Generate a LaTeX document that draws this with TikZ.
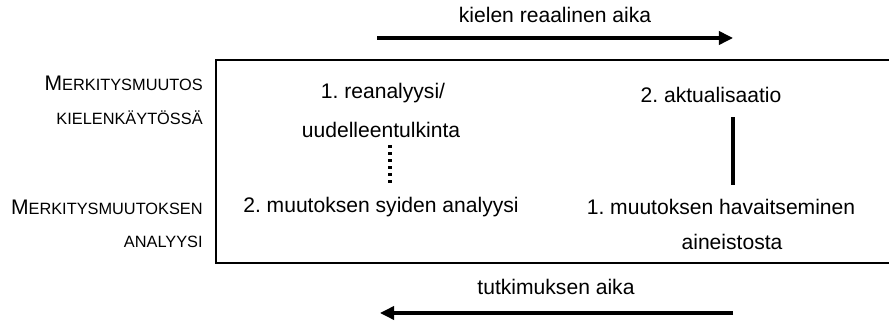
\documentclass[tikz,border=0pt]{standalone}
\usepackage{fontspec}
\setmainfont{Liberation Sans}
\usetikzlibrary{arrows.meta,calc}
\frenchspacing
\newcommand\pienikap[2]{{\fontsize{12}{14}\selectfont #1}{\fontsize{9.3}{11}\selectfont #2}}

\begin{document}
\begin{tikzpicture}[x=0.02cm,y=-0.02cm,
    txt/.style={font=\fontsize{12}{14}\selectfont,inner sep=0pt},
    lbl/.style={anchor=east,inner sep=0pt},
    aika/.style={line width=1.8pt,-{Triangle[length=8pt,width=7.5pt]}}]
  \useasboundingbox (0,0) rectangle (889,323);
  % kehys
  \draw[line width=1.4pt] (900,60) -- (216,60) -- (216,263) -- (900,263);
  % aika-akselit
  \node[txt] (RA) at (555,15) {kielen reaalinen aika};
  \coordinate (RA1) at (377,38);
  \coordinate (RA2) at (733,38);
  \path[aika] (RA1) edge (RA2);
  \node[txt] (TA) at (556,287) {tutkimuksen aika};
  \coordinate (TA1) at (733,313);
  \coordinate (TA2) at (380,313);
  \path[aika] (TA1) edge (TA2);
  % rivien otsikot
  \node[lbl] (K1) at (203,83) {\pienikap{M}{ERKITYSMUUTOS}};
  \node[lbl] (K2) at (203,118) {\pienikap{}{KIELENKÄYTÖSSÄ}};
  \node[lbl] (A1) at (203,207) {\pienikap{M}{ERKITYSMUUTOKSEN}};
  \node[lbl] (A2) at (203,242) {\pienikap{}{ANALYYSI}};
  % vasen sarake
  \node[txt] (REA) at (383,93) {1. reanalyysi/};
  \node[txt] (UUD) at (381,130) {uudelleentulkinta};
  \node[txt] (SYY) at (381,207) {2. muutoksen syiden analyysi};
  \draw[line width=2pt,dash pattern=on 1.8pt off 2.2pt] ($(UUD.south)+(9,7)$) -- ($(SYY.north)+(9,-12)$);
  % oikea sarake
  \node[txt] (AKT) at (711,95) {2. aktualisaatio};
  \node[txt] (HAV) at (721,207) {1. muutoksen havaitseminen};
  \node[txt] (AIN) at (732,242) {aineistosta};
  \draw[line width=2pt] ($(AKT.south)+(22,14)$) -- ($(HAV.north)+(12,-14)$);
\end{tikzpicture}
\end{document}
